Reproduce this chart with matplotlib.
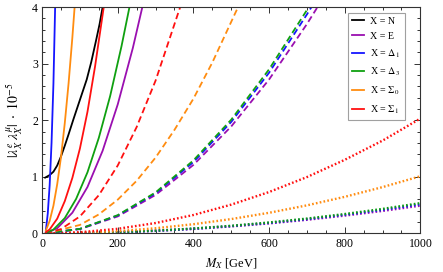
import matplotlib
matplotlib.use("Agg")
import matplotlib.pyplot as plt
from matplotlib.ticker import MultipleLocator

plt.rcParams['font.family'] = ['Liberation Serif', 'DejaVu Serif']
plt.rcParams['mathtext.fontset'] = 'stix'
plt.rcParams['lines.scale_dashes'] = False

# values (M_X in GeV, |lambda^e lambda^mu| in 1e-5)
m_N = [8, 20, 30, 40, 50, 60, 70, 83, 100, 118, 130, 143, 152, 160]
v_N = [0.985, 1.03, 1.09, 1.2, 1.36, 1.55, 1.75, 2.02, 2.36, 2.72, 3.03, 3.42, 3.7, 4.0]

# solid
m_E_s = [10, 40, 80, 120, 160, 200, 240, 265]
v_E_s = [0.006, 0.091, 0.365, 0.82, 1.46, 2.28, 3.28, 4.0]
m_D1_s = [10, 15, 20, 25, 30, 34.5]
v_D1_s = [0.05, 0.35, 0.85, 1.6, 2.65, 4.0]
m_D3_s = [10, 30, 60, 90, 120, 150, 180, 210, 231]
v_D3_s = [0.007, 0.067, 0.27, 0.61, 1.08, 1.69, 2.43, 3.31, 4.0]
m_S0_s = [10, 20, 30, 40, 50, 60, 70, 80, 86]
v_S0_s = [0.05, 0.22, 0.49, 0.87, 1.35, 1.95, 2.65, 3.46, 4.0]
m_S1_s = [10, 20, 40, 60, 80, 100, 120, 140, 163]
v_S1_s = [0.02, 0.07, 0.26, 0.57, 0.98, 1.5, 2.15, 2.95, 4.0]

# dashed
m_E_d = [10, 100, 200, 300, 400, 500, 600, 700, 728]
v_E_d = [0.001, 0.075, 0.30, 0.68, 1.21, 1.89, 2.72, 3.70, 4.0]
m_D1_d = [10, 100, 200, 300, 400, 500, 600, 700, 712]
v_D1_d = [0.001, 0.079, 0.316, 0.71, 1.26, 1.97, 2.84, 3.87, 4.0]
m_D3_d = [10, 100, 200, 300, 400, 500, 600, 705]
v_D3_d = [0.001, 0.080, 0.322, 0.724, 1.29, 2.01, 2.90, 4.0]
m_S0_d = [10, 100, 150, 200, 250, 300, 350, 400, 450, 518]
v_S0_d = [0.001, 0.149, 0.335, 0.596, 0.93, 1.34, 1.83, 2.38, 3.02, 4.0]
m_S1_d = [10, 50, 100, 150, 200, 250, 300, 365]
v_S1_d = [0.003, 0.075, 0.30, 0.675, 1.2, 1.88, 2.70, 4.0]

# dotted
m_dot = [10, 100, 200, 300, 400, 500, 600, 700, 800, 900, 1000]
v_E_t = [0.0, 0.005, 0.020, 0.044, 0.078, 0.123, 0.176, 0.240, 0.314, 0.397, 0.49]
v_D1_t = [0.0, 0.005, 0.021, 0.046, 0.082, 0.129, 0.185, 0.252, 0.330, 0.417, 0.515]
v_D3_t = [0.0, 0.005, 0.021, 0.048, 0.086, 0.134, 0.193, 0.262, 0.342, 0.433, 0.535]
v_S0_t = [0.0, 0.010, 0.040, 0.091, 0.162, 0.253, 0.364, 0.495, 0.646, 0.818, 1.01]
v_S1_t = [0.0, 0.020, 0.081, 0.183, 0.325, 0.508, 0.731, 0.995, 1.30, 1.64, 2.03]

labels = ['X = N', 'X = E', r'X = $\mathrm{\Delta}_1$', r'X = $\mathrm{\Delta}_3$',
          r'X = $\mathrm{\Sigma}_0$', r'X = $\mathrm{\Sigma}_1$']
colors = ['black', '#9a0fb0', '#1515ff', '#0fa010', '#ff8c10', '#ff1010']

fig = plt.figure(figsize=(4.43, 2.72), dpi=100)
ax = fig.add_axes([0.095, 0.142, 0.854, 0.832])

lw = 1.3
dash = (0, (4.6, 2.6))
dot = (0, (1.2, 1.6))

# dotted
for v, c in zip([v_E_t, v_D1_t, v_D3_t, v_S0_t, v_S1_t], colors[1:]):
    ax.plot(m_dot, v, color=c, lw=1.7, linestyle=dot)

# dashed
dashed = [(m_E_d, v_E_d), (m_D1_d, v_D1_d), (m_D3_d, v_D3_d), (m_S0_d, v_S0_d), (m_S1_d, v_S1_d)]
for (m, v), c in zip(dashed, colors[1:]):
    ax.plot(m, v, color=c, lw=lw, linestyle=dash)

# solid
solid = [(m_N, v_N), (m_E_s, v_E_s), (m_D1_s, v_D1_s), (m_D3_s, v_D3_s),
         (m_S0_s, v_S0_s), (m_S1_s, v_S1_s)]
handles = []
for (m, v), c, lab in zip(solid, colors, labels):
    h, = ax.plot(m, v, color=c, lw=lw, label=lab)
    handles.append(h)

ax.set_xlim(0, 1000)
ax.set_ylim(0, 4)
ax.xaxis.set_major_locator(MultipleLocator(200))
ax.xaxis.set_minor_locator(MultipleLocator(50))
ax.yaxis.set_major_locator(MultipleLocator(1))
ax.yaxis.set_minor_locator(MultipleLocator(0.2))
ax.tick_params(which='both', direction='in', top=True, right=True,
               labelsize=8.5, color='#333333', width=0.7, pad=3)
ax.tick_params(which='major', length=4)
ax.tick_params(which='minor', length=2)
for s in ax.spines.values():
    s.set_color('#333333')
    s.set_linewidth(0.8)

ax.set_xlabel(r'$M_X$ [GeV]', fontsize=9, labelpad=5)
ax.set_ylabel(r'$|\lambda^e_X\;\lambda^\mu_X|\;\cdot\;10^{-5}$', fontsize=10, labelpad=5)

leg = ax.legend(handles=handles, loc='upper right', bbox_to_anchor=(0.958, 0.975),
                fontsize=7.2, frameon=True, fancybox=False, edgecolor='#888888',
                handlelength=1.2, handletextpad=0.6, labelspacing=0.62,
                borderpad=0.4, borderaxespad=0.0)
leg.get_frame().set_linewidth(0.8)

fig.savefig('out.png', dpi=100)
